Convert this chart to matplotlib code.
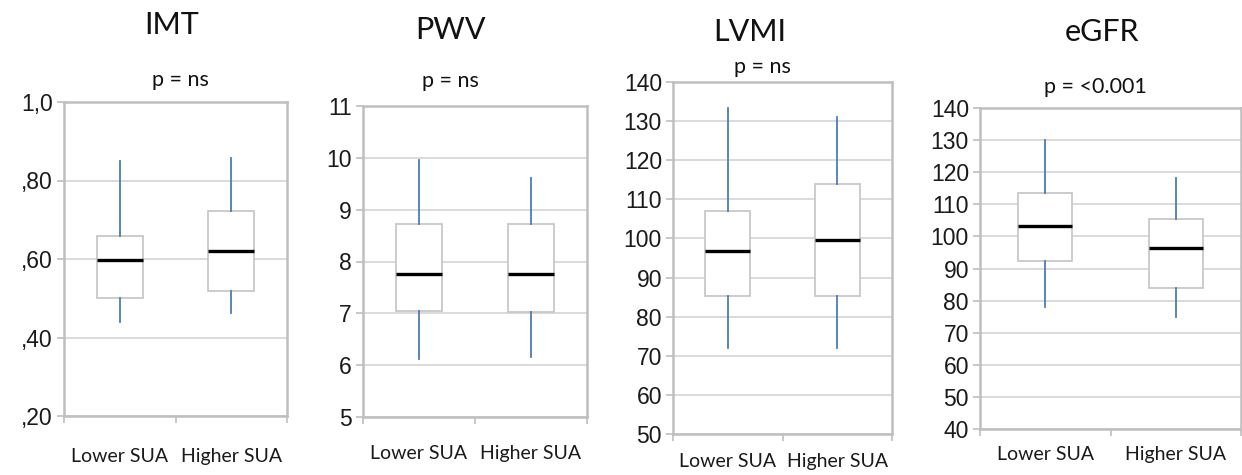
import matplotlib
matplotlib.use("Agg")
import matplotlib.pyplot as plt

# Five-number summaries: whisker low, Q1, median, Q3, whisker high
groups = ["Lower SUA", "Higher SUA"]

imt_lower = [0.44, 0.50, 0.597, 0.659, 0.85]
imt_higher = [0.462, 0.519, 0.62, 0.722, 0.857]
pwv_lower = [6.11, 7.05, 7.76, 8.73, 9.96]
pwv_higher = [6.16, 7.02, 7.76, 8.73, 9.61]
lvmi_lower = [72.0, 85.3, 96.9, 107.0, 133.4]
lvmi_higher = [72.0, 85.3, 99.7, 114.0, 131.1]
egfr_lower = [78.0, 92.3, 103.3, 113.5, 130.0]
egfr_higher = [75.0, 84.0, 96.3, 105.4, 118.2]

titles = ["IMT", "PWV", "LVMI", "eGFR"]
p_labels = ["p = ns", "p = ns", "p = ns", "p = <0.001"]

imt_ticks = [0.2, 0.4, 0.6, 0.8, 1.0]
imt_ticklabels = [",20", ",40", ",60", ",80", "1,0"]
pwv_ticks = [5, 6, 7, 8, 9, 10, 11]
lvmi_ticks = [50, 60, 70, 80, 90, 100, 110, 120, 130, 140]
egfr_ticks = [40, 50, 60, 70, 80, 90, 100, 110, 120, 130, 140]

W, H = 1242, 475
GRID = "#d4d4d4"
SPINE = "#bfbfbf"
WHISK = "#4a7db5"
TEXTFONT = "Lato"
NUMFONT = "Liberation Sans"


def px_axes(fig, left, top, right, bottom):
    return fig.add_axes([left / W, (H - bottom) / H, (right - left) / W, (bottom - top) / H])


def stats(vals, label):
    lo, q1, med, q3, hi = vals
    return {"whislo": lo, "q1": q1, "med": med, "q3": q3, "whishi": hi,
            "fliers": [], "label": label}


def draw_panel(ax, lower, higher, ticks, ticklabels, label_pad):
    ax.bxp([stats(lower, groups[0]), stats(higher, groups[1])],
           positions=[0.5, 1.5], widths=0.41, showcaps=False, showfliers=False,
           patch_artist=True,
           boxprops=dict(facecolor="white", edgecolor="#c8c8c8", linewidth=1.3),
           whiskerprops=dict(color=WHISK, linewidth=1.3),
           medianprops=dict(color="black", linewidth=2.4, solid_capstyle="butt"))
    ax.set_xlim(0, 2)
    ax.set_ylim(ticks[0], ticks[-1])
    ax.set_yticks(ticks)
    ax.set_yticklabels(ticklabels, fontsize=16.5, family=NUMFONT, color="#1a1a1a")
    ax.set_xticks([0.5, 1.5])
    ax.set_xticklabels(groups, fontsize=14, family=TEXTFONT, color="#1a1a1a")
    ax.set_xticks([0, 1, 2], minor=True)
    ax.tick_params(axis="x", which="major", length=0, pad=label_pad)
    ax.tick_params(axis="x", which="minor", length=5, width=1.2, color=SPINE)
    ax.tick_params(axis="y", length=5, width=1.2, color=SPINE, pad=3)
    ax.grid(axis="y", color=GRID, linewidth=1.2)
    ax.set_axisbelow(True)
    for sp in ax.spines.values():
        sp.set_color(SPINE)
        sp.set_linewidth(1.8)


fig = plt.figure(figsize=(W / 100, H / 100), dpi=100)

ax1 = px_axes(fig, 64, 102, 287, 416)
draw_panel(ax1, imt_lower, imt_higher, imt_ticks, imt_ticklabels, 23)
ax2 = px_axes(fig, 363, 106, 587, 417)
draw_panel(ax2, pwv_lower, pwv_higher, pwv_ticks, [str(t) for t in pwv_ticks], 20.5)
ax3 = px_axes(fig, 673, 82, 892, 434)
draw_panel(ax3, lvmi_lower, lvmi_higher, lvmi_ticks, [str(t) for t in lvmi_ticks], 13.5)
ax4 = px_axes(fig, 980, 108, 1241, 429)
draw_panel(ax4, egfr_lower, egfr_higher, egfr_ticks, [str(t) for t in egfr_ticks], 12)

# panel titles and p-values, placed in pixel coordinates
title_pos = [(172, 25), (450, 30), (750, 32), (1102, 32)]
p_pos = [(180, 80), (450, 81), (762, 67), (1095, 87)]
for title, (tx, ty), plab, (px, py) in zip(titles, title_pos, p_labels, p_pos):
    fig.text(tx / W, 1 - ty / H, title, fontsize=22, family=TEXTFONT,
             ha="center", va="center", color="#111111")
    fig.text(px / W, 1 - py / H, plab, fontsize=15.5, family=TEXTFONT,
             ha="center", va="center", color="#111111")

fig.savefig("out.png", dpi=100)
